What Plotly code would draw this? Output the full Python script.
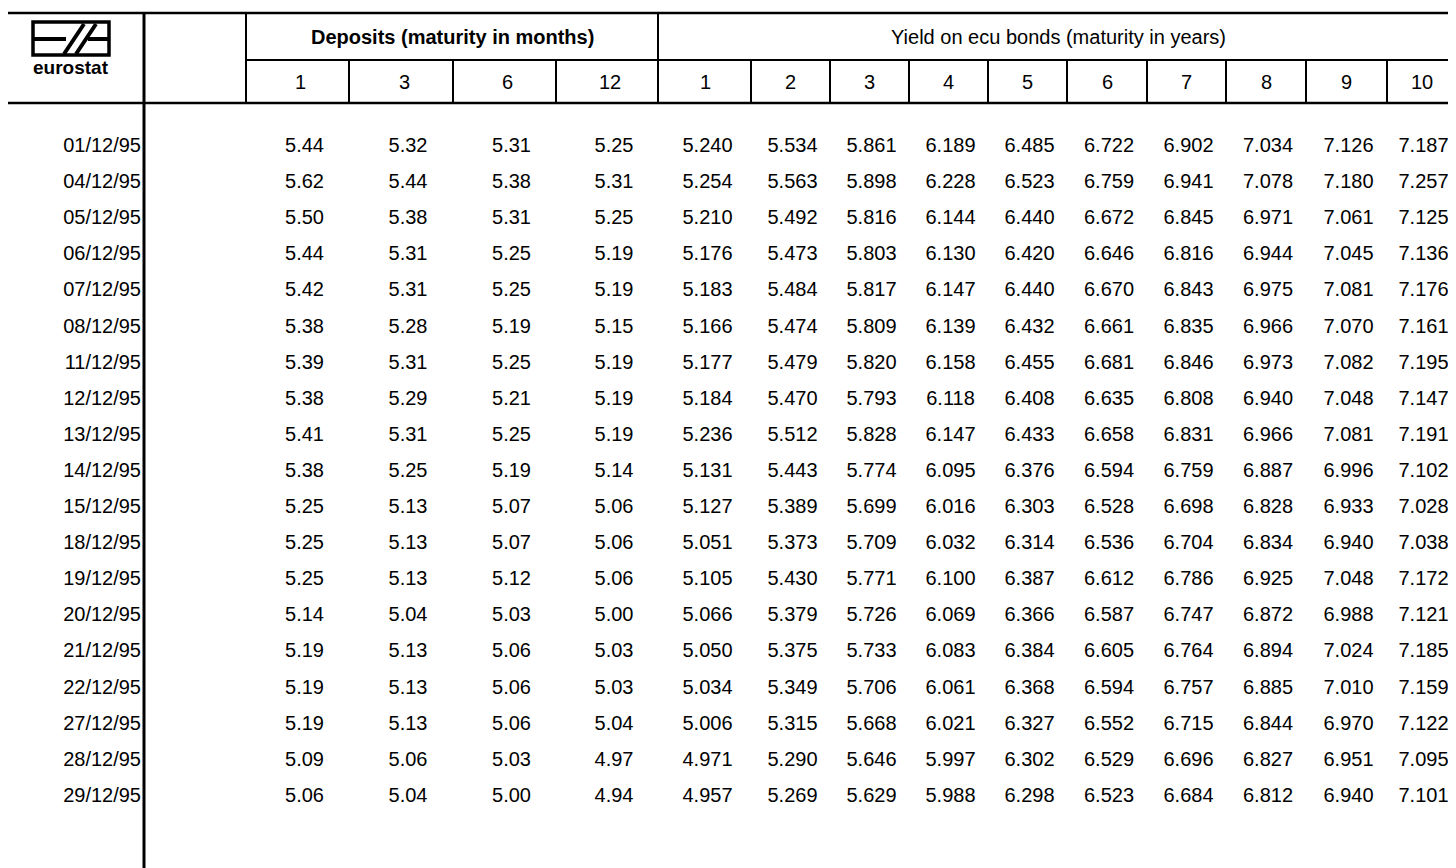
import plotly.graph_objects as go

# ---------------- data ----------------
dates = ["01/12/95", "04/12/95", "05/12/95", "06/12/95", "07/12/95", "08/12/95",
         "11/12/95", "12/12/95", "13/12/95", "14/12/95", "15/12/95", "18/12/95",
         "19/12/95", "20/12/95", "21/12/95", "22/12/95", "27/12/95", "28/12/95",
         "29/12/95"]

deposit_maturities = ["1", "3", "6", "12"]
bond_maturities = ["1", "2", "3", "4", "5", "6", "7", "8", "9", "10"]

dep_1m = [5.44, 5.62, 5.50, 5.44, 5.42, 5.38, 5.39, 5.38, 5.41, 5.38, 5.25, 5.25, 5.25, 5.14, 5.19, 5.19, 5.19, 5.09, 5.06]
dep_3m = [5.32, 5.44, 5.38, 5.31, 5.31, 5.28, 5.31, 5.29, 5.31, 5.25, 5.13, 5.13, 5.13, 5.04, 5.13, 5.13, 5.13, 5.06, 5.04]
dep_6m = [5.31, 5.38, 5.31, 5.25, 5.25, 5.19, 5.25, 5.21, 5.25, 5.19, 5.07, 5.07, 5.12, 5.03, 5.06, 5.06, 5.06, 5.03, 5.00]
dep_12m = [5.25, 5.31, 5.25, 5.19, 5.19, 5.15, 5.19, 5.19, 5.19, 5.14, 5.06, 5.06, 5.06, 5.00, 5.03, 5.03, 5.04, 4.97, 4.94]

bond_1y = [5.240, 5.254, 5.210, 5.176, 5.183, 5.166, 5.177, 5.184, 5.236, 5.131, 5.127, 5.051, 5.105, 5.066, 5.050, 5.034, 5.006, 4.971, 4.957]
bond_2y = [5.534, 5.563, 5.492, 5.473, 5.484, 5.474, 5.479, 5.470, 5.512, 5.443, 5.389, 5.373, 5.430, 5.379, 5.375, 5.349, 5.315, 5.290, 5.269]
bond_3y = [5.861, 5.898, 5.816, 5.803, 5.817, 5.809, 5.820, 5.793, 5.828, 5.774, 5.699, 5.709, 5.771, 5.726, 5.733, 5.706, 5.668, 5.646, 5.629]
bond_4y = [6.189, 6.228, 6.144, 6.130, 6.147, 6.139, 6.158, 6.118, 6.147, 6.095, 6.016, 6.032, 6.100, 6.069, 6.083, 6.061, 6.021, 5.997, 5.988]
bond_5y = [6.485, 6.523, 6.440, 6.420, 6.440, 6.432, 6.455, 6.408, 6.433, 6.376, 6.303, 6.314, 6.387, 6.366, 6.384, 6.368, 6.327, 6.302, 6.298]
bond_6y = [6.722, 6.759, 6.672, 6.646, 6.670, 6.661, 6.681, 6.635, 6.658, 6.594, 6.528, 6.536, 6.612, 6.587, 6.605, 6.594, 6.552, 6.529, 6.523]
bond_7y = [6.902, 6.941, 6.845, 6.816, 6.843, 6.835, 6.846, 6.808, 6.831, 6.759, 6.698, 6.704, 6.786, 6.747, 6.764, 6.757, 6.715, 6.696, 6.684]
bond_8y = [7.034, 7.078, 6.971, 6.944, 6.975, 6.966, 6.973, 6.940, 6.966, 6.887, 6.828, 6.834, 6.925, 6.872, 6.894, 6.885, 6.844, 6.827, 6.812]
bond_9y = [7.126, 7.180, 7.061, 7.045, 7.081, 7.070, 7.082, 7.048, 7.081, 6.996, 6.933, 6.940, 7.048, 6.988, 7.024, 7.010, 6.970, 6.951, 6.940]
bond_10y = [7.187, 7.257, 7.125, 7.136, 7.176, 7.161, 7.195, 7.147, 7.191, 7.102, 7.028, 7.038, 7.172, 7.121, 7.185, 7.159, 7.122, 7.095, 7.101]

deposit_cols = [dep_1m, dep_3m, dep_6m, dep_12m]
bond_cols = [bond_1y, bond_2y, bond_3y, bond_4y, bond_5y, bond_6y, bond_7y, bond_8y, bond_9y, bond_10y]

title_deposits = "Deposits (maturity in months)"
title_bonds = "Yield on ecu bonds (maturity in years)"
logo_text = "eurostat"

# ---------------- layout geometry ----------------
W, H = 1456, 868
PAD = 8  # default page margin around the figure
FONT = "Liberation Sans, Arial, sans-serif"
FS = 20
dep_edges = [246, 349, 453, 556, 658]
bond_edges = [660, 751, 830, 909, 988, 1067, 1147, 1226, 1306, 1387, 1456]
row0, row_step = 147, 36.1
row_y = [row0 + i * row_step for i in range(len(dates))]

fig = go.Figure()

# date labels
fig.add_trace(go.Scatter(
    x=[141] * len(dates), y=row_y, mode="text", text=dates,
    textposition="middle left", textfont=dict(family=FONT, size=FS, color="black"),
    hoverinfo="skip", showlegend=False))

# deposit columns
for j, col in enumerate(deposit_cols):
    xc = (dep_edges[j] + dep_edges[j + 1]) / 2 + 7
    fig.add_trace(go.Scatter(
        x=[xc] * len(col), y=row_y, mode="text", text=[f"{v:.2f}" for v in col],
        textposition="middle center", textfont=dict(family=FONT, size=FS, color="black"),
        hoverinfo="skip", showlegend=False))

# bond columns
for j, col in enumerate(bond_cols):
    xc = (bond_edges[j] + bond_edges[j + 1]) / 2 + 2
    fig.add_trace(go.Scatter(
        x=[xc] * len(col), y=row_y, mode="text", text=[f"{v:.3f}" for v in col],
        textposition="middle center", textfont=dict(family=FONT, size=FS, color="black"),
        hoverinfo="skip", showlegend=False))

shapes = []
def hline(y, x0, x1, w=2):
    shapes.append(dict(type="line", xref="x", yref="y", x0=x0, x1=x1, y0=y, y1=y,
                       line=dict(color="black", width=w)))
def vline(x, y0, y1, w=2):
    shapes.append(dict(type="line", xref="x", yref="y", x0=x, x1=x, y0=y0, y1=y1,
                       line=dict(color="black", width=w)))

hline(13, 7, W + 5, 2.5)
hline(60, 246, W + 5, 2)
hline(103, 7, W + 5, 2.5)
vline(144, 13, H + 5, 3)
vline(246, 13, 103, 2)
vline(658, 13, 103, 2)
for x in dep_edges[1:-1]:
    vline(x, 60, 103, 2)
for x in bond_edges[1:-1]:
    vline(x, 60, 103, 2)

# logo
shapes.append(dict(type="rect", xref="x", yref="y", x0=33, x1=109, y0=22, y1=55,
                   line=dict(color="black", width=3.5), fillcolor="white"))
shapes.append(dict(type="path", xref="x", yref="y",
                   path="M 34 39 L 66 39 M 64 54 L 84 24 M 76 54 L 96 24 M 88 39 L 108 39",
                   line=dict(color="black", width=4)))

annotations = []
annotations.append(dict(x=71, y=67, xref="x", yref="y", text=f"<b>{logo_text}</b>", showarrow=False,
                        font=dict(family=FONT, size=19, color="black"), xanchor="center", yanchor="middle"))
annotations.append(dict(x=(dep_edges[0] + dep_edges[-1]) / 2, y=37, xref="x", yref="y",
                        text=f"<b>{title_deposits}</b>", showarrow=False,
                        font=dict(family=FONT, size=FS, color="black"), xanchor="center", yanchor="middle"))
annotations.append(dict(x=(bond_edges[0] + bond_edges[-1]) / 2, y=37, xref="x", yref="y",
                        text=title_bonds, showarrow=False,
                        font=dict(family=FONT, size=FS, color="black"), xanchor="center", yanchor="middle"))
for j, lab in enumerate(deposit_maturities):
    annotations.append(dict(x=(dep_edges[j] + dep_edges[j + 1]) / 2 + 3, y=82, xref="x", yref="y",
                            text=lab, showarrow=False,
                            font=dict(family=FONT, size=FS, color="black"), xanchor="center", yanchor="middle"))
for j, lab in enumerate(bond_maturities):
    annotations.append(dict(x=(bond_edges[j] + bond_edges[j + 1]) / 2, y=82, xref="x", yref="y",
                            text=lab, showarrow=False,
                            font=dict(family=FONT, size=FS, color="black"), xanchor="center", yanchor="middle"))

# the page places the figure PAD px in from the window corner, so the figure
# covers window pixels PAD..W and PAD..H
fig.update_layout(
    width=W - PAD, height=H - PAD, margin=dict(l=0, r=0, t=0, b=0),
    paper_bgcolor="white", plot_bgcolor="white",
    xaxis=dict(range=[PAD, W], visible=False, fixedrange=True),
    yaxis=dict(range=[H, PAD], visible=False, fixedrange=True),
    shapes=shapes, annotations=annotations, showlegend=False,
)

fig.write_html("out.html")
